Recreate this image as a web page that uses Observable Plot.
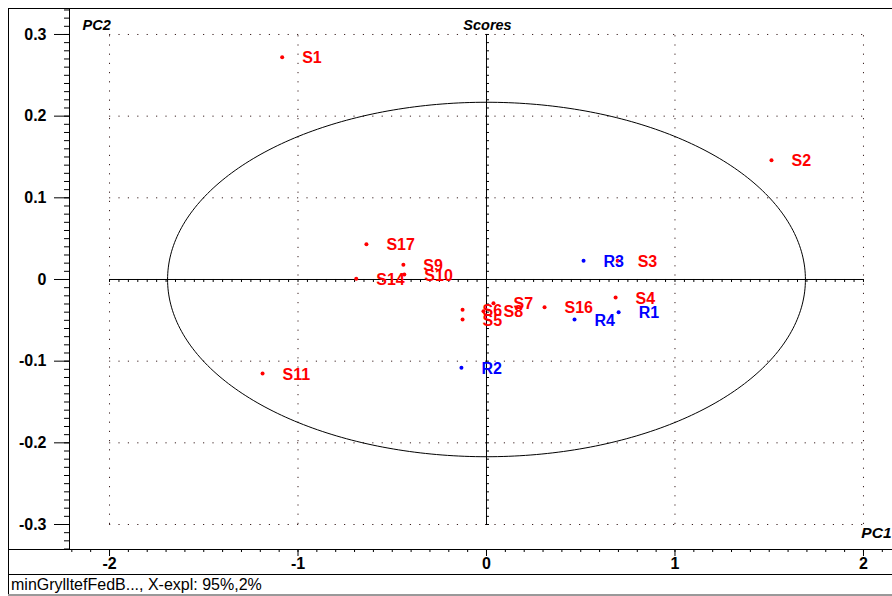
<!DOCTYPE html>
<html>
<head>
<meta charset="utf-8">
<script src="https://cdn.jsdelivr.net/npm/d3@7"></script>
<script src="https://cdn.jsdelivr.net/npm/@observablehq/plot@0.6"></script>
<style>
  html, body { margin: 0; padding: 0; background: #fff; }
  #wrap { position: relative; width: 892px; height: 596px; overflow: hidden; font-family: "Liberation Sans", Arial, sans-serif; }
  #chart { position: absolute; left: 0; top: 0; }
  .ln { position: absolute; background: #000; pointer-events: none; }
  #caption { position: absolute; left: 11px; top: 576px; font-size: 16px; color: #000; white-space: nowrap; }
</style>
</head>
<body>
<div id="wrap">
  <div id="chart"></div>
  <div class="ln" style="left:8px;top:8px;width:884px;height:1px;"></div>
  <div class="ln" style="left:8px;top:8px;width:1px;height:587px;"></div>
  <div class="ln" style="left:69px;top:8px;width:1px;height:541px;"></div>
  <div class="ln" style="left:8px;top:549px;width:884px;height:1px;"></div>
  <div class="ln" style="left:8px;top:574px;width:884px;height:1px;"></div>
  <div class="ln" style="left:8px;top:594px;width:884px;height:2px;background:#999;"></div>
  <div id="caption">minGrylltefFedB..., X-expl: 95%,2%</div>
</div>
<script>
// ---- data ----
const names  = ["S1","S2","S3","S4","S5","S6","S7","S8","S9","S10","S11","S14","S16","S17","R1","R2","R3","R4"];
const pc1    = [-1.084, 1.512, 0.696, 0.685, -0.127, -0.127, 0.037, -0.016, -0.441, -0.436, -1.188, -0.691, 0.308, -0.637, 0.701, -0.133, 0.515, 0.467];
const pc2    = [0.272, 0.146, 0.023, -0.022, -0.049, -0.037, -0.029, -0.039, 0.018, 0.006, -0.115, 0.001, -0.034, 0.043, -0.040, -0.108, 0.023, -0.049];
const groups = ["S","S","S","S","S","S","S","S","S","S","S","S","S","S","R","R","R","R"];

const xTicks = [-2, -1, 0, 1, 2];
const yTicks = [-0.3, -0.2, -0.1, 0, 0.1, 0.2, 0.3];
const xGrid = [-2, -1, 1, 2];
const yGrid = [-0.3, -0.2, -0.1, 0.1, 0.2, 0.3];
const xDomain = [-2.207, 2.154];
const yDomain = [-0.3306, 0.3318];
const ellipseRx = 1.692;   // Hotelling ellipse semi-axis, PC1
const ellipseRy = 0.217;   // Hotelling ellipse semi-axis, PC2

// ---- derived ----
const points = names.map((n, i) => ({name: n, x: pc1[i], y: pc2[i], g: groups[i]}));
const colorOf = g => g === "R" ? "#0000ff" : "#ff0000";
const xMinor = d3.range(-22, 22).map(i => +(i / 10).toFixed(2));
const yMinor = d3.range(-33, 34).map(i => +(i / 100).toFixed(2));
const zeroXTicks = d3.range(-40, 41).map(i => +(i * 0.05).toFixed(2));
const zeroYTicks = d3.range(-30, 31).map(i => +(i / 100).toFixed(2));
const ellipse = d3.range(0, 361).map(a => {
  const t = a * Math.PI / 180;
  return {x: ellipseRx * Math.cos(t), y: ellipseRy * Math.sin(t)};
});

const chart = Plot.plot({
  width: 892,
  height: 574,
  marginLeft: 70,
  marginRight: 0,
  marginTop: 8,
  marginBottom: 25,
  style: {fontFamily: "'Liberation Sans', Arial, sans-serif", background: "transparent", overflow: "visible"},
  x: {domain: xDomain, label: null},
  y: {domain: yDomain, label: null},
  marks: [
    // dotted grid
    Plot.ruleY(yGrid, {x1: -2, x2: 2, stroke: "#3a2020", strokeWidth: 1, strokeDasharray: "1.2,8.2"}),
    Plot.ruleX(xGrid, {y1: -0.3, y2: 0.3, stroke: "#3a2020", strokeWidth: 1, strokeDasharray: "1.2,8"}),
    // zero axes
    Plot.ruleY([0], {x1: -2, x2: 2, stroke: "#000", strokeWidth: 1}),
    Plot.ruleX([0], {y1: -0.3, y2: 0.3, stroke: "#000", strokeWidth: 1}),
    Plot.ruleX(zeroXTicks, {y1: 0, y2: 0, insetBottom: -3, stroke: "#000"}),
    Plot.ruleY(zeroYTicks, {x1: 0, x2: 0, insetRight: -3, stroke: "#000"}),
    // ellipse
    Plot.line(ellipse, {x: "x", y: "y", stroke: "#000", strokeWidth: 1, curve: "linear"}),
    // axes
    Plot.axisY(yMinor, {tickSize: 6, tickFormat: () => "", label: null, stroke: "#000"}),
    Plot.axisY(yTicks, {tickSize: 16, tickPadding: 8, tickFormat: d => String(d), label: null, fontSize: 16, fontWeight: "bold", fill: "#000", stroke: "#000"}),
    Plot.axisX(xMinor, {tickSize: 3, tickFormat: () => "", label: null, stroke: "#000"}),
    Plot.axisX(xTicks, {tickSize: 7, tickPadding: 1, tickFormat: d => String(d), label: null, fontSize: 16, fontWeight: "bold", fill: "#000", stroke: "#000"}),
    // points and labels
    Plot.dot(points, {x: "x", y: "y", r: 2, fill: d => colorOf(d.g), stroke: null}),
    Plot.text(points, {x: "x", y: "y", text: "name", dx: 20, dy: 1, textAnchor: "start", fontSize: 16, fontWeight: "bold", fill: d => colorOf(d.g)}),
    // titles
    Plot.text(["PC2"], {frameAnchor: "top-left", dx: 12, dy: 11, textAnchor: "start", fontSize: 14.5, fontWeight: "bold", fontStyle: "italic", fill: "#000"}),
    Plot.text(["Scores"], {frameAnchor: "top", dx: 6, dy: 11, fontSize: 14.5, fontWeight: "bold", fontStyle: "italic", fill: "#000"}),
    Plot.text(["PC1"], {frameAnchor: "bottom-right", dx: -1, dy: -12, textAnchor: "end", fontSize: 15.5, fontWeight: "bold", fontStyle: "italic", fill: "#000"})
  ]
});
document.getElementById("chart").appendChild(chart);
</script>
</body>
</html>
